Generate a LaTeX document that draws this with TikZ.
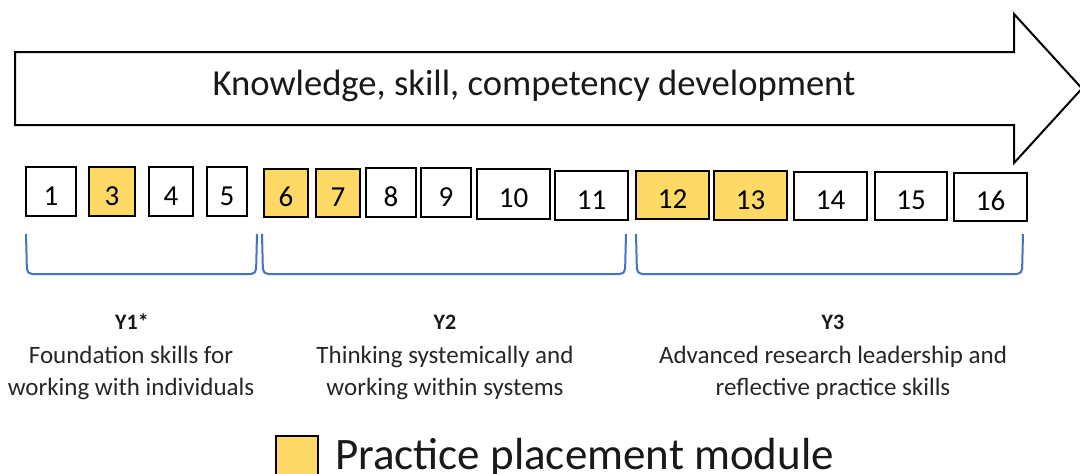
\documentclass[tikz,border=0pt]{standalone}
\usepackage{fontspec}
\setmainfont{Carlito}
\definecolor{placement}{RGB}{255,217,102}
\definecolor{bracecol}{RGB}{68,114,196}
\tikzset{
  module/.style={draw=black, line width=2pt, fill=white, inner sep=0pt,
    text height=27pt, text depth=0pt, font=\fontsize{29}{31}\selectfont},
  placed/.style={module, fill=placement},
  yearbrace/.style={draw=bracecol, line width=2pt, rounded corners=5pt},
  yeartag/.style={anchor=base, inner sep=0pt, font=\fontsize{22}{24}\selectfont\bfseries, text=black!90},
  yeardesc/.style={anchor=base, inner sep=0pt, font=\fontsize{25}{27}\selectfont, text=black!85},
}
\newcommand{\modbox}[7]{% name, style, label, x1, x2, y1, y2
  \node[#2, minimum width={(#5-#4-2)*1pt}, minimum height={(#7-#6-2)*1pt}]
    (#1) at ({(#4+#5)/2},{(#6+#7)/2}) {#3};}
\begin{document}
\begin{tikzpicture}[x=1pt, y=-1pt]
  \useasboundingbox (0,0) rectangle (1080,474);
  \clip (0,0) rectangle (1080,474);
  \fill[white] (0,0) rectangle (1080,474);

  % development arrow
  \draw[line width=2pt, line join=miter, fill=white]
    (15,52) -- (1014,52) -- (1014,14) -- (1082,88.5) -- (1014,163)
    -- (1014,125) -- (15,125) -- cycle;
  \node[anchor=base, inner sep=0pt, font=\fontsize{36.6}{40}\selectfont, text=black!90]
    (title) at (534,95) {Knowledge, skill, competency development};

  % modules
  \modbox{m1}{module}{1}{25}{77}{166}{217}
  \modbox{m3}{placed}{3}{88}{136}{166}{217}
  \modbox{m4}{module}{4}{148}{194}{166}{217}
  \modbox{m5}{module}{5}{206}{248}{166}{217}
  \modbox{m6}{placed}{6}{263}{309}{168}{218}
  \modbox{m7}{placed}{7}{315}{361}{168}{218}
  \modbox{m8}{module}{8}{365}{417}{167}{218}
  \modbox{m9}{module}{9}{420}{472}{167}{218}
  \modbox{m10}{module}{10}{476}{551}{168}{220}
  \modbox{m11}{module}{11}{554}{629}{170}{221}
  \modbox{m12}{placed}{12}{635}{710}{170}{220}
  \modbox{m13}{placed}{13}{713}{788}{170}{221}
  \modbox{m14}{module}{14}{793}{868}{171}{221}
  \modbox{m15}{module}{15}{874}{948}{171}{221}
  \modbox{m16}{module}{16}{953}{1028}{172}{222}

  % year braces
  \draw[yearbrace] (26,234) -- (27,274) -- (256,274) -- (257,234);
  \draw[yearbrace] (262,234) -- (263,274) -- (625,274) -- (626,234);
  \draw[yearbrace] (636,234) -- (637,274) -- (1022,274) -- (1023,234);

  % year descriptions
  \node[yeartag] (y1) at (132,329) {Y1*};
  \node[yeardesc] (y1a) at (131,363) {Foundation skills for};
  \node[yeardesc] (y1b) at (131,395) {working with individuals};

  \node[yeartag] (y2) at (445,329) {Y2};
  \node[yeardesc] (y2a) at (445,363) {Thinking systemically and};
  \node[yeardesc] (y2b) at (445,395) {working within systems};

  \node[yeartag] (y3) at (833,329) {Y3};
  \node[yeardesc] (y3a) at (833,363) {Advanced research leadership and};
  \node[yeardesc] (y3b) at (833,395) {reflective practice skills};

  % legend
  \node[draw=black, line width=2pt, fill=placement, inner sep=0pt,
    minimum width=42pt, minimum height=48pt] (key) at (297,460) {};
  \node[anchor=base west, inner sep=0pt, font=\fontsize{45}{48}\selectfont, text=black!90]
    (keytext) at (335,469) {Practice placement module};
\end{tikzpicture}
\end{document}
